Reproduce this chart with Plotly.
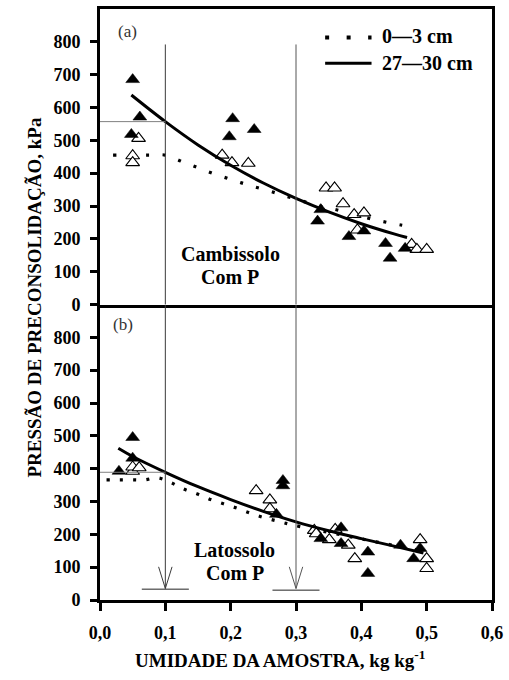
import plotly.graph_objects as go

# ---------------- data ----------------
# Panel (a) Cambissolo Com P
a_deep_x = [0.050, 0.061, 0.048, 0.198, 0.203, 0.236, 0.333, 0.338, 0.381, 0.404, 0.437, 0.444, 0.467]
a_deep_y = [685, 571, 518, 511, 566, 533, 254, 289, 207, 224, 186, 141, 171]
a_surf_x = [0.050, 0.050, 0.059, 0.187, 0.202, 0.227, 0.346, 0.359, 0.372, 0.389, 0.404, 0.394, 0.477, 0.485, 0.500]
a_surf_y = [453, 432, 506, 455, 432, 430, 355, 355, 307, 274, 279, 227, 183, 168, 168]
a_fit_deep_x = [0.048, 0.10, 0.15, 0.20, 0.25, 0.30, 0.35, 0.40, 0.45, 0.47]
a_fit_deep_y = [638, 557, 486, 424, 370, 323, 282, 246, 215, 204]
a_fit_surf_x = [0.02, 0.05, 0.075, 0.10, 0.126, 0.152, 0.179, 0.205, 0.23, 0.257, 0.283, 0.31, 0.336, 0.365, 0.39, 0.419, 0.447, 0.475]
a_fit_surf_y = [455, 455, 455, 455, 435, 415, 395, 378, 362, 347, 331, 315, 300, 287, 274, 259, 247, 237]

# Panel (b) Latossolo Com P
b_deep_x = [0.029, 0.050, 0.050, 0.270, 0.280, 0.280, 0.338, 0.369, 0.369, 0.410, 0.410, 0.460, 0.480, 0.490]
b_deep_y = [392, 495, 432, 261, 364, 348, 187, 220, 172, 146, 81, 167, 126, 157]
b_surf_x = [0.050, 0.050, 0.060, 0.239, 0.260, 0.260, 0.328, 0.331, 0.351, 0.360, 0.380, 0.390, 0.490, 0.500, 0.500]
b_surf_y = [392, 405, 403, 333, 305, 278, 212, 202, 184, 215, 167, 126, 184, 126, 96]
b_fit_deep_x = [0.028, 0.05, 0.10, 0.15, 0.20, 0.25, 0.30, 0.35, 0.40, 0.45, 0.495]
b_fit_deep_y = [462, 437, 389, 345, 306, 270, 238, 211, 187, 164, 143]
b_fit_surf_x = [0.010, 0.030, 0.050, 0.068, 0.088, 0.108, 0.128, 0.149, 0.169, 0.189, 0.209, 0.229, 0.249, 0.272, 0.292, 0.33, 0.37, 0.41, 0.45, 0.49]
b_fit_surf_y = [366, 366, 366, 366, 372, 358, 338, 323, 306, 293, 280, 265, 252, 240, 230, 214, 198, 182, 166, 150]

ref_moisture = [0.1, 0.3]
ref_pressure_a = 557
ref_pressure_b = 389

x_tickvals = [0.0, 0.1, 0.2, 0.3, 0.4, 0.5, 0.6]
x_ticktext = ["0,0", "0,1", "0,2", "0,3", "0,4", "0,5", "0,6"]
y_tickvals = [0, 100, 200, 300, 400, 500, 600, 700, 800]

legend_labels = ["0\u20143 cm", "27\u201430 cm"]
SERIF = "Liberation Serif, Times New Roman, serif"

fig = go.Figure()

def add_panel(xa, ya, fsx, fsy, fdx, fdy, sx, sy, dx, dy, dotdash):
    fig.add_trace(go.Scatter(x=fsx, y=fsy, mode="lines", xaxis=xa, yaxis=ya,
                             line=dict(color="black", width=3.2, dash=dotdash, shape="spline"),
                             hoverinfo="skip"))
    fig.add_trace(go.Scatter(x=sx, y=sy, mode="markers", xaxis=xa, yaxis=ya,
                             marker=dict(symbol="triangle-up", size=12, color="white",
                                         line=dict(color="black", width=1.1))))
    fig.add_trace(go.Scatter(x=dx, y=dy, mode="markers", xaxis=xa, yaxis=ya,
                             marker=dict(symbol="triangle-up", size=12, color="black",
                                         line=dict(color="black", width=0.5))))
    fig.add_trace(go.Scatter(x=fdx, y=fdy, mode="lines", xaxis=xa, yaxis=ya,
                             line=dict(color="black", width=3, shape="spline"),
                             hoverinfo="skip"))

add_panel("x", "y", a_fit_surf_x, a_fit_surf_y, a_fit_deep_x, a_fit_deep_y,
          a_surf_x, a_surf_y, a_deep_x, a_deep_y, "3px,13.5px")
add_panel("x2", "y2", b_fit_surf_x, b_fit_surf_y, b_fit_deep_x, b_fit_deep_y,
          b_surf_x, b_surf_y, b_deep_x, b_deep_y, "3px,10.3px")

shapes = []
thin = dict(color="#3a3a3a", width=1)
gray = dict(color="#808080", width=1)
# horizontal reference lines
shapes.append(dict(type="line", xref="x", yref="y", x0=0, x1=ref_moisture[0],
                   y0=ref_pressure_a, y1=ref_pressure_a, line=gray))
shapes.append(dict(type="line", xref="x2", yref="y2", x0=0, x1=ref_moisture[0],
                   y0=ref_pressure_b, y1=ref_pressure_b, line=gray))
for i, xm in enumerate(ref_moisture):
    col = thin if i == 0 else dict(color="#555555", width=1)
    shapes.append(dict(type="line", xref="x", yref="y", x0=xm, x1=xm, y0=0, y1=792, line=col))
    shapes.append(dict(type="line", xref="x2", yref="y2", x0=xm, x1=xm, y0=35, y1=900, line=col))
    shapes.append(dict(type="path", xref="x2", yref="y2",
                       path=f"M {xm-0.0103},101 L {xm},35 L {xm+0.0103},101", line=col))
    shapes.append(dict(type="line", xref="x2", yref="y2", x0=xm - 0.036, x1=xm + 0.036,
                       y0=33 - 3 * i, y1=33 - 3 * i, line=dict(color="#222222", width=1)))
# legend samples
shapes.append(dict(type="line", xref="x", yref="y", x0=0.3446, x1=0.4156, y0=813, y1=813,
                   line=dict(color="black", width=4, dash="4px,17.5px")))
shapes.append(dict(type="line", xref="x", yref="y", x0=0.3446, x1=0.4156, y0=735, y1=735,
                   line=dict(color="black", width=3)))

ann = []
def txt(t, x, y, xref, yref, size, xanchor="center", bold=True, color="black", **kw):
    ann.append(dict(text=(f"<b>{t}</b>" if bold else t), x=x, y=y, xref=xref, yref=yref,
                    showarrow=False, xanchor=xanchor, yanchor="middle",
                    font=dict(family=SERIF, size=size, color=color), **kw))

txt(legend_labels[0], 0.428, 819, "x", "y", 20, xanchor="left")
txt(legend_labels[1], 0.428, 737, "x", "y", 20, xanchor="left")
txt("(a)", 0.042, 833, "x", "y", 17, bold=False, color="#333333")
txt("(b)", 0.035, 839, "x2", "y2", 17, bold=False, color="#333333")
txt("Cambissolo", 0.199, 154, "x", "y", 20)
txt("Com P", 0.199, 85, "x", "y", 20)
txt("Latossolo", 0.2066, 151, "x2", "y2", 20)
txt("Com P", 0.2066, 82, "x2", "y2", 20)
txt("UMIDADE DA AMOSTRA, kg kg<sup>-1</sup>", 0.46, -0.1, "paper", "paper", 19)
txt("PRESSÃO DE PRECONSOLIDAÇÃO, kPa", -0.168, 0.512, "paper", "paper", 19, textangle=-90)

axis_common = dict(showline=True, linewidth=3, linecolor="black",
                   showgrid=False, zeroline=False)
tickfont = dict(family=SERIF, size=18, color="black", weight="bold")

fig.update_layout(
    width=509, height=680,
    margin=dict(l=100, r=12, t=6, b=80),
    plot_bgcolor="white", paper_bgcolor="white",
    showlegend=False,
    shapes=shapes, annotations=ann,
    xaxis=dict(domain=[0, 1], range=[0, 0.6], anchor="y", showticklabels=False, ticks="",
               mirror=True, **axis_common),
    yaxis=dict(domain=[0.5, 1], range=[0, 900], anchor="x", tickvals=y_tickvals,
               ticks="outside", ticklen=7, tickwidth=2.5, tickcolor="black", mirror=True,
               tickfont=tickfont, ticklabelstandoff=6, **axis_common),
    xaxis2=dict(domain=[0, 1], range=[0, 0.6], anchor="y2", tickvals=x_tickvals,
                ticktext=x_ticktext, ticks="outside", ticklen=8, tickwidth=3, mirror=False,
                tickcolor="black", tickfont=tickfont, ticklabelstandoff=6, **axis_common),
    yaxis2=dict(domain=[0, 0.5], range=[0, 900], anchor="x2", tickvals=y_tickvals,
                ticks="outside", ticklen=7, tickwidth=2.5, tickcolor="black", mirror=True,
                tickfont=tickfont, ticklabelstandoff=6, **axis_common),
)

fig.write_html("out.html", config={"displayModeBar": False},
               post_script="document.body.style.margin='0';document.body.style.overflow='hidden';")
